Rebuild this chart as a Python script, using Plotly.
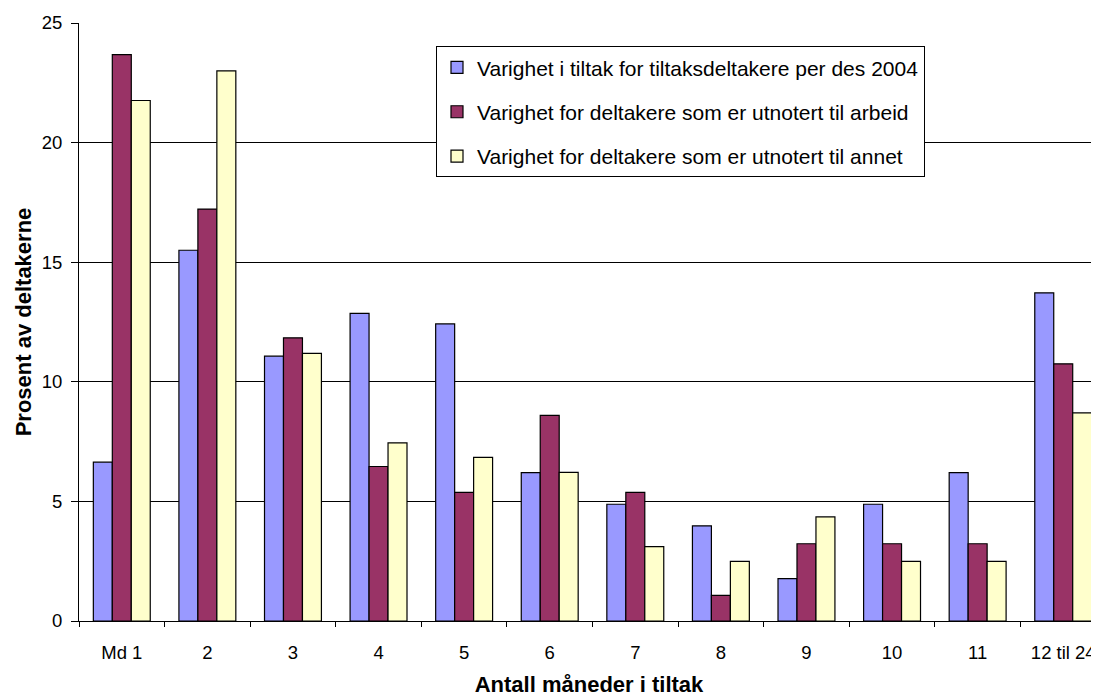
import plotly.graph_objects as go

categories = ["Md 1", "2", "3", "4", "5", "6", "7", "8", "9", "10", "11", "12 til 24"]
series_names = [
    "Varighet i tiltak for tiltaksdeltakere per des 2004",
    "Varighet for deltakere som er utnotert til arbeid",
    "Varighet for deltakere som er utnotert til annet",
]
tiltak_2004 = [6.64, 15.50, 11.07, 12.86, 12.42, 6.20, 4.88, 3.98, 1.77, 4.88, 6.20, 13.72]
til_arbeid = [23.68, 17.22, 11.84, 6.46, 5.38, 8.60, 5.38, 1.07, 3.23, 3.23, 3.23, 10.75]
til_annet = [21.76, 23.00, 11.19, 7.45, 6.84, 6.21, 3.11, 2.49, 4.35, 2.49, 2.49, 8.70]
colors = ["#9999FF", "#993366", "#FFFFCC"]
y_ticks = [0, 5, 10, 15, 20, 25]

FONT = "Liberation Sans, Arial, sans-serif"

fig = go.Figure()
for i, (name, vals) in enumerate(zip(series_names, [tiltak_2004, til_arbeid, til_annet])):
    fig.add_trace(go.Bar(
        x=categories, y=vals, name=name, legendgroup=f"g{i}",
        marker=dict(color=colors[i], line=dict(color="black", width=1.2)),
    ))

fig.update_layout(
    width=1091, height=690,
    margin=dict(l=71, r=0, t=15, b=77, autoexpand=False),
    paper_bgcolor="white", plot_bgcolor="white",
    font=dict(family=FONT, size=18, color="black"),
    barmode="group", bargap=0.335, bargroupgap=0,
    showlegend=True,
    legend=dict(
        x=0.350, y=0.961, xanchor="left", yanchor="top",
        bgcolor="white", bordercolor="black", borderwidth=1,
        font=dict(family=FONT, size=21, color="black"),
        tracegroupgap=14, itemwidth=30,
    ),
    xaxis=dict(
        type="category", range=[-0.5, 11.418],
        showline=True, linecolor="black", linewidth=1,
        ticks="outside", tickson="boundaries", ticklen=5, tickcolor="black",
        tickfont=dict(size=18.5), ticklabelstandoff=15,
        title=dict(text="<b>Antall måneder i tiltak</b>", font=dict(size=22), standoff=14),
        showgrid=False,
    ),
    yaxis=dict(
        range=[0, 25], tickvals=y_ticks,
        showline=True, linecolor="black", linewidth=1,
        ticks="outside", ticklen=7, tickcolor="black",
        tickfont=dict(size=18.5), ticklabelstandoff=5,
        showgrid=True, gridcolor="black", gridwidth=1,
        zeroline=False,
        title=dict(text="<b>Prosent av deltakerne</b>", font=dict(size=22), standoff=4),
    ),
)

fig.write_html("out.html")
